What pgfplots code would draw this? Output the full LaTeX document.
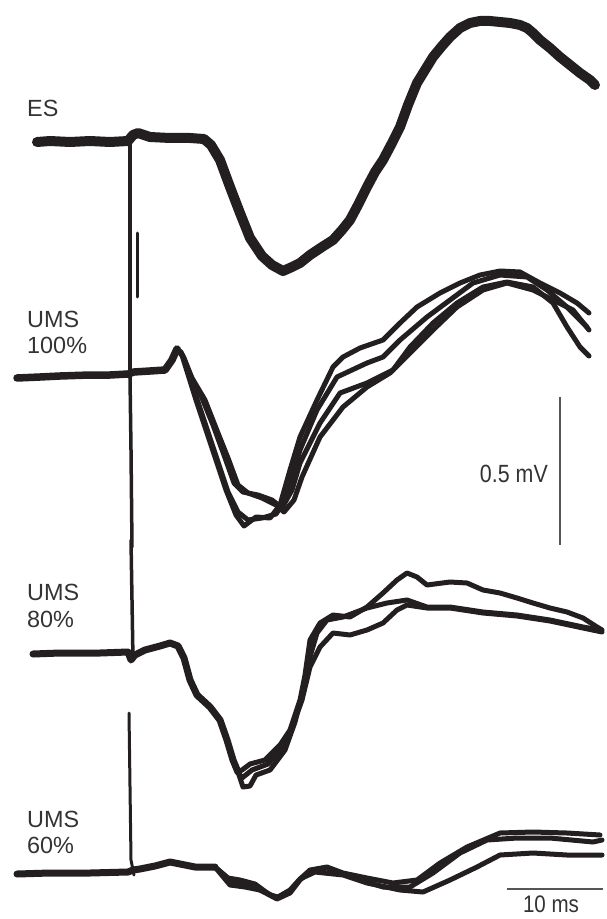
\documentclass[border=0pt]{standalone}
\usepackage{pgfplots}
\pgfplotsset{compat=1.18}
\usepackage{fontspec}
\setmainfont{Liberation Sans}
\usepackage{graphicx}
\definecolor{ink}{HTML}{231F20}
\definecolor{txt}{HTML}{333333}
\definecolor{bar}{HTML}{555555}
\begin{document}
\begin{tikzpicture}[x=1bp,y=1bp]
\begin{axis}[
  width=607bp, height=919bp, scale only axis,
  xmin=0, xmax=607, ymin=0, ymax=919, y dir=reverse,
  hide axis, clip=false,
  every axis plot/.append style={line join=round, line cap=round, color=ink},
]
\path (axis cs:0,0) (axis cs:607,919);
% ES
\addplot[line width=10bp] coordinates {(37,142)(50,141)(70,142)(90,141)(110,142)(128,141)(133,135)(138,133)(150,137)(170,138)(190,138)(204,139)(211,145)(220,160)(230,187)(240,213)(250,238)(262,256)(272,265)(283,271)(292,267)(300,263)(310,255)(322,247)(333,240)(342,230)(350,220)(358,205)(367,187)(375,172)(383,160)(392,143)(400,127)(408,105)(417,83)(425,70)(433,57)(442,46)(450,37)(460,28)(470,23)(480,21)(490,21)(500,22)(510,23)(520,25)(527,28)(533,33)(540,40)(550,48)(560,57)(570,65)(580,73)(590,80)(595,85)};
% stimulus artifacts
\addplot[line width=4.5bp] coordinates {(130,140)(130,377)};
\addplot[line width=3.5bp] coordinates {(130,377)(131,450)(132,547)};
\addplot[line width=3bp] coordinates {(137,233)(137,297)};
\addplot[line width=3.5bp] coordinates {(131,540)(132,600)(133,660)};
\addplot[line width=3bp] coordinates {(129,713)(131,860)(134,875)};
% UMS 100%
\addplot[line width=7.5bp] coordinates {(17,378)(40,377)(60,376)(90,375)(110,375)(128,374)(134,372)(150,371)(165,370)(172,360)(177,349)};
\addplot[line width=5bp] coordinates {(177,349)(181,352)(186,368)(196,400)(206,430)(216,460)(226,490)(236,515)(244,526)(256,517)(270,518)(280,505)(290,470)(300,437)(317,400)(333,367)(343,357)(360,348)(383,340)(400,323)(417,307)(440,293)(460,283)(480,275)(500,271)(520,272)(540,283)(560,293)(577,303)(589,313)};
\addplot[line width=5bp] coordinates {(177,349)(182,354)(188,372)(198,402)(208,432)(218,462)(228,492)(238,512)(248,520)(262,518)(276,514)(282,505)(291,480)(300,450)(317,410)(337,377)(367,363)(383,357)(400,340)(427,317)(450,300)(473,283)(500,275)(527,277)(547,290)(567,307)(587,327)};
\addplot[line width=5bp] coordinates {(177,349)(183,356)(190,375)(202,398)(213,425)(224,455)(234,483)(243,492)(258,495)(272,500)(282,508)(292,490)(300,463)(320,423)(340,393)(367,383)(393,370)(410,347)(433,323)(457,303)(483,287)(507,282)(533,287)(553,303)(567,327)(580,347)(589,356)};
\addplot[line width=5bp] coordinates {(177,349)(184,358)(192,378)(205,400)(216,428)(228,458)(238,485)(248,493)(262,498)(276,505)(284,512)(294,500)(302,477)(320,437)(343,407)(367,387)(390,373)(410,353)(433,330)(457,307)(483,290)(507,283)(533,290)(553,300)(573,310)(589,330)};
% UMS 80%
\addplot[line width=7bp] coordinates {(33,654)(60,653)(100,653)(128,652)(131,660)(135,655)(145,650)(160,646)(170,643)(178,646)(184,658)(190,680)(197,695)(210,707)(220,720)(227,740)(233,760)(238,772)};
\addplot[line width=5bp] coordinates {(238,772)(242,770)(250,764)(265,760)(280,745)(290,730)(300,700)(305,675)(310,640)(320,623)(333,615)(350,617)(367,607)(383,593)(397,580)(407,573)(417,577)(427,585)(450,582)(467,583)(483,590)(500,593)(517,598)(533,603)(550,608)(567,612)(583,618)(597,627)(602,630)};
\addplot[line width=5bp] coordinates {(238,772)(243,787)(250,786)(256,775)(270,770)(285,750)(295,722)(303,690)(307,667)(317,633)(327,620)(343,617)(367,608)(387,603)(407,600)(427,607)(450,607)(483,612)(517,615)(550,620)(583,627)(600,630)};
\addplot[line width=5bp] coordinates {(238,772)(242,778)(252,770)(268,764)(282,748)(293,725)(302,700)(310,667)(320,647)(333,633)(350,635)(367,630)(383,623)(397,610)(407,605)(427,608)(450,608)(483,613)(517,616)(550,621)(583,628)(602,632)};
% UMS 60%
\addplot[line width=7bp] coordinates {(17,874)(50,873)(90,873)(128,872)(133,870)(140,869)(155,866)(170,862)(180,864)(195,867)(215,867)};
\addplot[line width=5bp] coordinates {(215,867)(228,878)(240,880)(255,884)(270,895)(278,897)(290,890)(300,879)(310,870)(327,867)(343,873)(367,878)(393,883)(417,880)(440,863)(467,847)(500,833)(533,832)(567,833)(600,835)};
\addplot[line width=5bp] coordinates {(215,867)(230,885)(245,887)(260,890)(277,899)(290,893)(300,880)(310,871)(327,868)(343,874)(383,887)(410,887)(433,873)(460,853)(487,840)(517,838)(550,838)(593,842)(602,840)};
\addplot[line width=5bp] coordinates {(215,867)(232,882)(250,886)(265,892)(277,898)(290,892)(300,879)(315,872)(343,875)(367,883)(400,890)(423,892)(450,880)(477,867)(500,855)(533,853)(567,855)(602,855)};
% scale bars
\addplot[line width=1.5bp, color=bar, line cap=butt] coordinates {(560,397)(560,545)};
\addplot[line width=1.5bp, color=bar, line cap=butt] coordinates {(507,889)(603,889)};
% labels
\begin{scope}[every node/.style={text=txt, inner sep=0pt, font=\fontsize{23.5}{26}\selectfont}]
\node[anchor=base west] at (axis cs:27,117) {ES};
\node[anchor=base west] at (axis cs:27,327) {UMS};
\node[anchor=base west] at (axis cs:27,353) {100\%};
\node[anchor=base west] at (axis cs:27,600) {UMS};
\node[anchor=base west] at (axis cs:27,627) {80\%};
\node[anchor=base west] at (axis cs:27,827) {UMS};
\node[anchor=base west] at (axis cs:27,853) {60\%};
\end{scope}
\node[anchor=base east, inner sep=0pt, text=txt, font=\fontsize{25}{28}\selectfont] at (axis cs:548,482) {\scalebox{0.86}[1]{0.5 mV}};
\node[anchor=base, inner sep=0pt, text=txt, font=\fontsize{24}{28}\selectfont] at (axis cs:551,912) {\scalebox{0.86}[1]{10 ms}};
\end{axis}
\end{tikzpicture}
\end{document}
